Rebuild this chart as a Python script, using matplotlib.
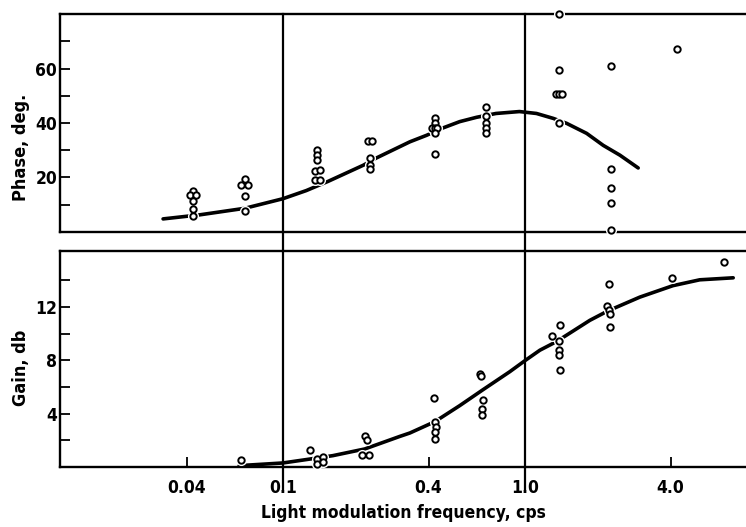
import matplotlib
matplotlib.use("Agg")
import matplotlib.pyplot as plt

plt.rcParams['font.family'] = 'DejaVu Sans'
plt.rcParams['font.stretch'] = 'condensed'
plt.rcParams['font.weight'] = 'bold'
plt.rcParams['axes.labelweight'] = 'bold'

# phase measurements (frequency in cps, phase in deg.)
phase_f = [0.0426, 0.0415, 0.0437, 0.0426, 0.0426, 0.0426,
           0.0697, 0.067, 0.072, 0.0697, 0.0697,
           0.139, 0.139, 0.139, 0.136, 0.142, 0.136, 0.142,
           0.225, 0.234, 0.229, 0.229, 0.229,
           0.425, 0.425, 0.415, 0.425, 0.435, 0.425, 0.425,
           0.69, 0.69, 0.69, 0.69, 0.69,
           1.38, 1.38, 1.34, 1.38, 1.42, 1.38,
           2.26, 2.26, 2.26, 2.26, 2.26,
           4.26]
phase_v = [14.9, 13.6, 13.6, 11.2, 8.4, 6.0,
           19.6, 17.3, 17.3, 13.3, 7.7,
           30.0, 28.2, 26.3, 22.4, 22.6, 18.9, 18.9,
           33.5, 33.5, 27.2, 24.5, 23.0,
           41.7, 39.9, 38.0, 38.0, 38.0, 36.2, 28.8,
           45.8, 42.7, 39.9, 38.0, 36.2,
           80.0, 59.5, 50.5, 50.5, 50.5, 40.0,
           60.8, 23.2, 16.2, 10.6, 0.8,
           67.2]

# fitted phase curve
phase_curve_f = [0.032, 0.0454, 0.0697, 0.1, 0.125, 0.154, 0.215, 0.244, 0.335,
                 0.393, 0.453, 0.538, 0.632, 0.76, 0.95, 1.117, 1.31, 1.486,
                 1.8, 2.107, 2.47, 2.94]
phase_curve_v = [4.8, 6.3, 8.7, 12.2, 15.2, 18.6, 24.5, 27.2, 33.1,
                 35.5, 38.0, 40.5, 42.1, 43.5, 44.2, 43.5, 41.7, 39.9,
                 36.2, 31.8, 28.2, 23.5]

# gain measurements (frequency in cps, gain in db)
gain_f = [0.0669,
          0.130, 0.139, 0.139, 0.147, 0.147,
          0.218, 0.222, 0.212, 0.226,
          0.42, 0.425, 0.43, 0.425, 0.425,
          0.652, 0.66, 0.672, 0.665, 0.665,
          1.30, 1.40, 1.387, 1.39, 1.39, 1.395,
          2.22, 2.18, 2.23, 2.24, 2.25,
          4.06, 6.66]
gain_v = [0.5,
          1.25, 0.63, 0.25, 0.72, 0.38,
          2.3, 2.0, 0.9, 0.9,
          5.15, 3.4, 3.0, 2.65, 2.1,
          6.95, 6.8, 5.05, 4.35, 3.9,
          9.85, 10.65, 9.45, 8.75, 8.4, 7.3,
          13.7, 12.07, 11.75, 11.5, 10.5,
          14.15, 15.35]

gain_curve_f = [0.066, 0.1, 0.13, 0.161, 0.218, 0.304, 0.335, 0.425, 0.538,
                0.672, 0.867, 1.0, 1.154, 1.35, 1.856, 2.2, 2.985, 4.09,
                5.28, 7.26]
gain_curve_v = [0.1, 0.3, 0.6, 0.85, 1.35, 2.29, 2.55, 3.4, 4.6,
                5.8, 7.15, 7.97, 8.76, 9.4, 11.0, 11.7, 12.74, 13.6,
                14.04, 14.19]

xticks = [0.04, 0.1, 0.4, 1.0, 4.0]
xtick_labels = ['0.04', '0.1', '0.4', '1.0', '4.0']
grid_lines = [0.1, 1.0]

fig = plt.figure(figsize=(7.46, 5.27), dpi=100)
ax1 = fig.add_axes([0.0804, 0.5598, 0.9196, 0.4136])
ax2 = fig.add_axes([0.0804, 0.1139, 0.9196, 0.4098])

def draw_points(ax, f, v):
    # white halo so the line and frame break around each circle
    ax.plot(f, v, 'o', ms=8, mfc='white', mec='none', zorder=3, clip_on=False)
    ax.plot(f, v, 'o', ms=4.6, mfc='white', mec='black', mew=1.4,
            zorder=4, clip_on=False)

for ax in (ax1, ax2):
    ax.set_xscale('log')
    ax.set_xlim(0.012, 8.2)
    ax.spines['right'].set_visible(False)
    for s in ('top', 'bottom', 'left'):
        ax.spines[s].set_linewidth(1.7)
    ax.tick_params(axis='y', which='both', direction='in', length=7, width=1.3,
                   pad=2, labelsize=12.5)
    for x in grid_lines:
        ax.axvline(x, ymin=-0.1, ymax=1, color='black', lw=1.6, clip_on=False,
                   zorder=2)

# phase panel
ax1.plot(phase_curve_f, phase_curve_v, color='black', lw=2.6, zorder=2,
         solid_capstyle='round')
draw_points(ax1, phase_f, phase_v)
ax1.set_ylim(0, 80)
ax1.set_yticks([20, 40, 60])
ax1.set_yticks([10, 30, 50, 70], minor=True)
ax1.set_xticks([])
ax1.set_xticks([], minor=True)
ax1.set_ylabel('Phase, deg.', fontsize=13)
ax1.yaxis.set_label_coords(-0.044, 0.39)

# gain panel
ax2.plot(gain_curve_f, gain_curve_v, color='black', lw=2.6, zorder=2,
         solid_capstyle='round')
draw_points(ax2, gain_f, gain_v)
ax2.set_ylim(0, 16.2)
ax2.set_yticks([4, 8, 12])
ax2.set_yticks([2, 6, 10, 14], minor=True)
ax2.set_xticks(xticks)
ax2.set_xticklabels(xtick_labels)
ax2.set_xticks([], minor=True)
ax2.tick_params(axis='x', direction='in', length=7, width=1.3, pad=9,
                labelsize=12.5)
ax2.set_ylabel('Gain, db', fontsize=13)
ax2.yaxis.set_label_coords(-0.044, 0.46)
ax2.set_xlabel('Light modulation frequency, cps', fontsize=12.5, labelpad=5)

fig.savefig('out.png', dpi=100)
